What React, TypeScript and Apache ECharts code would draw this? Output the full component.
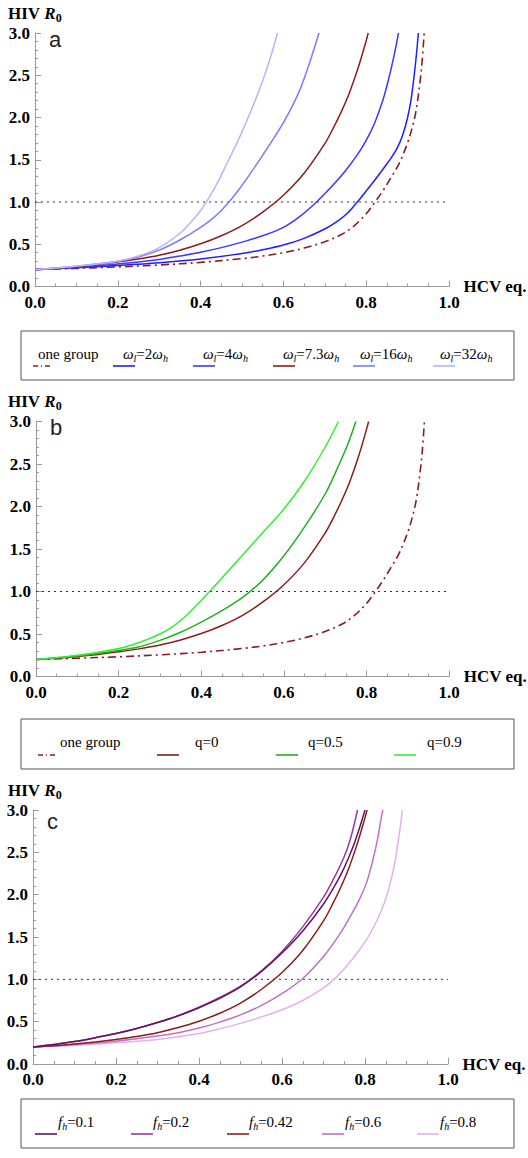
import React, { useEffect, useRef } from "react";
import * as echarts from "echarts";

// ---------- data ----------
const refLine = [[0, 1], [1, 1]];

const oneGroup = [[0, 0.2], [0.1, 0.215], [0.2, 0.232], [0.3, 0.255], [0.4, 0.285], [0.5, 0.33], [0.55, 0.36], [0.6, 0.4], [0.65, 0.455], [0.7, 0.53], [0.74, 0.615], [0.77, 0.715], [0.8, 0.86], [0.82, 0.99], [0.84, 1.13], [0.86, 1.29], [0.88, 1.46], [0.9, 1.7], [0.91, 1.86], [0.92, 2.07], [0.93, 2.42], [0.935, 2.66], [0.94, 3.0]];
const omega2 = [[0, 0.2], [0.1, 0.222], [0.2, 0.248], [0.3, 0.28], [0.4, 0.325], [0.5, 0.39], [0.55, 0.435], [0.6, 0.49], [0.65, 0.57], [0.7, 0.68], [0.73, 0.77], [0.755, 0.87], [0.777, 0.99], [0.8, 1.13], [0.82, 1.255], [0.84, 1.385], [0.86, 1.52], [0.875, 1.64], [0.888, 1.79], [0.9, 2.0], [0.908, 2.2], [0.914, 2.42], [0.92, 2.68], [0.926, 3.0]];
const omega4 = [[0, 0.2], [0.1, 0.228], [0.2, 0.265], [0.3, 0.32], [0.35, 0.36], [0.4, 0.405], [0.45, 0.46], [0.5, 0.525], [0.55, 0.6], [0.6, 0.7], [0.64, 0.83], [0.68, 1.0], [0.72, 1.2], [0.75, 1.37], [0.78, 1.57], [0.8, 1.73], [0.82, 1.93], [0.84, 2.2], [0.855, 2.47], [0.868, 2.75], [0.878, 3.0]];
const baseCase = [[0, 0.2], [0.05, 0.215], [0.1, 0.235], [0.15, 0.26], [0.2, 0.29], [0.25, 0.325], [0.3, 0.37], [0.35, 0.43], [0.4, 0.505], [0.45, 0.6], [0.5, 0.72], [0.55, 0.88], [0.6, 1.08], [0.65, 1.34], [0.7, 1.69], [0.72, 1.87], [0.74, 2.07], [0.76, 2.3], [0.78, 2.58], [0.79, 2.74], [0.8, 2.91], [0.805, 3.0]];
const omega16 = [[0, 0.2], [0.1, 0.24], [0.2, 0.3], [0.25, 0.35], [0.3, 0.43], [0.35, 0.55], [0.4, 0.7], [0.43, 0.81], [0.45, 0.9], [0.471, 1.015], [0.49, 1.13], [0.51, 1.265], [0.54, 1.48], [0.575, 1.74], [0.6, 1.94], [0.62, 2.12], [0.64, 2.33], [0.66, 2.6], [0.672, 2.78], [0.686, 3.0]];
const omega32 = [[0, 0.2], [0.1, 0.24], [0.2, 0.3], [0.25, 0.36], [0.3, 0.46], [0.35, 0.63], [0.38, 0.78], [0.4, 0.9], [0.42, 1.05], [0.44, 1.22], [0.46, 1.42], [0.48, 1.62], [0.5, 1.83], [0.515, 2.0], [0.535, 2.24], [0.551, 2.45], [0.568, 2.7], [0.586, 3.0]];

const q05 = [[0, 0.2], [0.1, 0.24], [0.2, 0.305], [0.25, 0.35], [0.3, 0.425], [0.35, 0.52], [0.4, 0.64], [0.45, 0.775], [0.5, 0.93], [0.55, 1.14], [0.6, 1.42], [0.65, 1.76], [0.7, 2.15], [0.734, 2.5], [0.756, 2.75], [0.774, 3.0]];
const q09 = [[0, 0.2], [0.1, 0.25], [0.2, 0.33], [0.25, 0.4], [0.3, 0.5], [0.33, 0.585], [0.36, 0.7], [0.39, 0.845], [0.414, 0.97], [0.45, 1.16], [0.5, 1.43], [0.55, 1.7], [0.6, 1.97], [0.65, 2.3], [0.7, 2.7], [0.732, 3.0]];

const fh01 = [[0, 0.2], [0.05, 0.23], [0.1, 0.265], [0.15, 0.31], [0.2, 0.36], [0.25, 0.42], [0.3, 0.49], [0.35, 0.57], [0.4, 0.665], [0.45, 0.775], [0.5, 0.91], [0.55, 1.09], [0.6, 1.31], [0.65, 1.57], [0.7, 1.89], [0.73, 2.13], [0.75, 2.32], [0.77, 2.55], [0.785, 2.76], [0.8, 3.0]];
const fh02 = [[0, 0.2], [0.05, 0.23], [0.1, 0.265], [0.15, 0.31], [0.2, 0.36], [0.25, 0.42], [0.3, 0.49], [0.35, 0.57], [0.4, 0.67], [0.45, 0.785], [0.5, 0.92], [0.55, 1.1], [0.6, 1.33], [0.65, 1.62], [0.7, 1.97], [0.73, 2.24], [0.75, 2.45], [0.765, 2.66], [0.782, 3.0]];
const fh06 = [[0, 0.2], [0.1, 0.23], [0.2, 0.27], [0.3, 0.33], [0.35, 0.37], [0.4, 0.425], [0.45, 0.495], [0.5, 0.58], [0.55, 0.69], [0.6, 0.83], [0.65, 1.01], [0.7, 1.27], [0.74, 1.54], [0.77, 1.79], [0.79, 1.98], [0.805, 2.16], [0.82, 2.43], [0.83, 2.65], [0.84, 2.93], [0.843, 3.0]];
const fh08 = [[0, 0.2], [0.1, 0.22], [0.2, 0.25], [0.3, 0.29], [0.4, 0.36], [0.45, 0.415], [0.5, 0.48], [0.55, 0.555], [0.6, 0.64], [0.65, 0.75], [0.7, 0.9], [0.73, 1.02], [0.76, 1.18], [0.79, 1.37], [0.81, 1.52], [0.83, 1.71], [0.845, 1.88], [0.855, 2.03], [0.865, 2.22], [0.872, 2.38], [0.879, 2.6], [0.885, 2.8], [0.89, 3.0]];

const panelLetters = ["a", "b", "c"];
const legendA = ["one group", "{i|ω}{s|l}{n|=2}{i|ω}{s|h}", "{i|ω}{s|l}{n|=4}{i|ω}{s|h}", "{i|ω}{s|l}{n|=7.3}{i|ω}{s|h}", "{i|ω}{s|l}{n|=16}{i|ω}{s|h}", "{i|ω}{s|l}{n|=32}{i|ω}{s|h}"];
const legendB = ["one group", "q=0", "q=0.5", "q=0.9"];
const legendC = ["{i|f}{s|h}{n|=0.1}", "{i|f}{s|h}{n|=0.2}", "{i|f}{s|h}{n|=0.42}", "{i|f}{s|h}{n|=0.6}", "{i|f}{s|h}{n|=0.8}"];

// ---------- styling ----------
const SERIF = "'Liberation Serif', 'Times New Roman', 'DejaVu Serif', serif";
const SANS = "'Liberation Sans', Arial, sans-serif";
const RED = "#8b1c1c";
const DASHDOT = [8, 4, 2, 4];
const AXIS = "#9a9a9a";

const colA = [RED, "#1f1fff", "#3a3aff", RED, "#7b7bff", "#b4b4ff"];
const colB = [RED, RED, "#22b022", "#33ee33"];
const colC = ["#5e1660", "#9a3aa0", RED, "#c070c8", "#e2b2e8"];

const grids = [
  { left: 35, top: 33, width: 414, height: 253.5 },
  { left: 36, top: 421.5, width: 414, height: 255 },
  { left: 33, top: 810, width: 415, height: 254 },
];

export default function App() {
  const ref = useRef<HTMLDivElement>(null);
  useEffect(() => {
    document.body.style.margin = "0";
    document.body.style.overflow = "hidden";
    const chart = echarts.init(ref.current!, null, { renderer: "svg" });

    const tickFont = { color: "#000", fontFamily: SERIF, fontWeight: "bold", fontSize: 17 };
    const xAxes = grids.map((_, gi) => ({
      gridIndex: gi, type: "value", min: 0, max: 1, interval: 0.2,
      axisLine: { show: true, lineStyle: { color: AXIS, width: 1 } },
      axisTick: { show: true, inside: true, length: 6, lineStyle: { color: AXIS } },
      minorTick: { show: true, splitNumber: 4, length: 3, lineStyle: { color: AXIS } },
      splitLine: { show: false }, minorSplitLine: { show: false },
      axisLabel: { ...tickFont, margin: 7, formatter: (v: number) => v.toFixed(1) },
      name: "HCV eq.", nameLocation: "end", nameGap: 9,
      nameTextStyle: { ...tickFont },
    }));
    const yAxes = grids.map((_, gi) => ({
      gridIndex: gi, type: "value", min: 0, max: 3, interval: 0.5,
      axisLine: { show: true, lineStyle: { color: AXIS, width: 1 } },
      axisTick: { show: true, inside: true, length: 6, lineStyle: { color: AXIS } },
      minorTick: { show: true, splitNumber: 5, length: 3, lineStyle: { color: AXIS } },
      splitLine: { show: false }, minorSplitLine: { show: false },
      axisLabel: { ...tickFont, margin: 5, formatter: (v: number) => v.toFixed(1) },
    }));

    const mk = (name: string, data: number[][], color: string, gi: number, type: any = "solid", width = 1.5, z = 2, smooth: any = 0.35) => ({
      name, type: "line", data, xAxisIndex: gi, yAxisIndex: gi,
      symbol: "none", showSymbol: false, smooth,
      lineStyle: { color, width, type }, silent: true, z,
    });

    const series: any[] = [];
    for (let gi = 0; gi < 3; gi++) {
      series.push(mk("ref" + gi, refLine, "#333", gi, [2, 4], 1, 1, false));
    }
    // panel a
    series.push(mk("a-one", oneGroup, colA[0], 0, DASHDOT, 1.6));
    series.push(mk("a-2", omega2, colA[1], 0));
    series.push(mk("a-4", omega4, colA[2], 0));
    series.push(mk("a-7.3", baseCase, colA[3], 0));
    series.push(mk("a-16", omega16, colA[4], 0));
    series.push(mk("a-32", omega32, colA[5], 0));
    // panel b
    series.push(mk("b-one", oneGroup, colB[0], 1, DASHDOT, 1.6));
    series.push(mk("b-0", baseCase, colB[1], 1));
    series.push(mk("b-05", q05, colB[2], 1));
    series.push(mk("b-09", q09, colB[3], 1));
    // panel c
    series.push(mk("c-08", fh08, colC[4], 2));
    series.push(mk("c-06", fh06, colC[3], 2));
    series.push(mk("c-042", baseCase, colC[2], 2));
    series.push(mk("c-02", fh02, colC[1], 2));
    series.push(mk("c-01", fh01, colC[0], 2, "solid", 1.5, 3));

    const rich = {
      n: { fontFamily: SERIF, fontSize: 15, color: "#000", lineHeight: 18 },
      i: { fontFamily: SERIF, fontSize: 15, fontStyle: "italic", color: "#000", lineHeight: 18 },
      s: { fontFamily: SERIF, fontSize: 10, fontStyle: "italic", color: "#000", lineHeight: 11, verticalAlign: "bottom" },
    };
    const hivRich = {
      b: { fontFamily: SERIF, fontSize: 17, fontWeight: "bold", color: "#000", lineHeight: 20 },
      bi: { fontFamily: SERIF, fontSize: 17, fontWeight: "bold", fontStyle: "italic", color: "#000", lineHeight: 20 },
      bs: { fontFamily: SERIF, fontSize: 12, fontWeight: "bold", color: "#000", lineHeight: 13, verticalAlign: "bottom" },
    };

    const graphics: any[] = [];
    const titleY = [15, 403, 792];
    const letterY = [50, 438, 832];
    grids.forEach((g, gi) => {
      graphics.push({
        type: "text", left: 8, top: titleY[gi] - 10,
        style: { text: "{b|HIV }{bi|R}{bs|0}", rich: hivRich, fontFamily: SERIF },
      });
      graphics.push({
        type: "text", x: g.left + 14, y: letterY[gi],
        style: { text: panelLetters[gi], fontFamily: SANS, fontSize: 22, fill: "#222", verticalAlign: "bottom", align: "left" },
      });
    });

    const legend = (
      box: number[], labels: string[], colors: string[], sampleX: number[], textX: number[],
      textY: number, sampleY: number, dashFirst: boolean,
    ) => {
      graphics.push({
        type: "rect", shape: { x: box[0], y: box[1], width: box[2], height: box[3] },
        style: { fill: "none", stroke: "#555", lineWidth: 1 },
      });
      labels.forEach((lab, k) => {
        const dash = dashFirst && k === 0;
        graphics.push({
          type: "line", shape: { x1: sampleX[k], y1: sampleY, x2: sampleX[k] + (dash ? 17 : 22), y2: sampleY },
          style: { stroke: colors[k], lineWidth: 1.6, lineDash: dash ? [5, 3, 1, 3] : null },
        });
        graphics.push({
          type: "text", x: textX[k], y: textY,
          style: {
            text: lab.includes("{") ? lab : `{n|${lab}}`, rich,
            fontFamily: SERIF, fontSize: 15, fill: "#000",
            verticalAlign: "middle", align: "left",
          },
        });
      });
    };
    legend([21, 331, 493, 49], legendA, colA, [33, 113, 193, 273, 353, 433], [38, 123, 203, 283, 360, 440], 354, 366, true);
    legend([21, 719, 493, 50], legendB, colB, [38, 157, 276, 394], [60, 195, 308, 427], 742, 755, true);
    legend([21, 1099, 493, 49], legendC, colC, [35, 131, 227, 322, 417], [58, 153, 249, 345, 440], 1122, 1134, false);

    chart.setOption({
      animation: false,
      backgroundColor: "#fff",
      grid: grids,
      xAxis: xAxes,
      yAxis: yAxes,
      series,
      graphic: graphics,
    });
    return () => chart.dispose();
  }, []);
  return <div ref={ref} style={{ width: 528, height: 1158 }} />;
}
